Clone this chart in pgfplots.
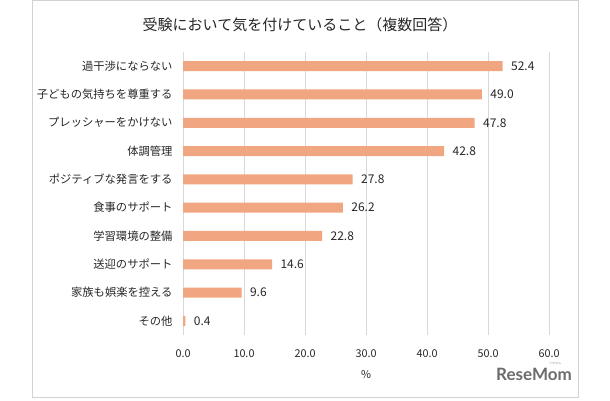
\documentclass[border=0pt]{standalone}
\usepackage{pgfplots}
\pgfplotsset{compat=1.18}
\usepackage{fontspec}
\setmainfont{Noto Sans CJK JP}
\newfontfamily\wmfont{Lato}
\definecolor{barc}{RGB}{240,166,128}
\definecolor{gridc}{RGB}{217,217,217}
\definecolor{framec}{RGB}{210,210,210}
\definecolor{txt}{RGB}{38,38,38}
\begin{document}
\begin{tikzpicture}[x=1bp,y=1bp]
\path[use as bounding box] (0,0) rectangle (610,400);
\draw[framec,line width=1bp] (32,3) rectangle (578,399);
\node[txt,font=\fontsize{15bp}{17bp}\selectfont] at (300,375) {受験において気を付けていること（複数回答）};
\begin{axis}[
  at={(183bp,65bp)}, anchor=south west,
  scale only axis, width=366bp, height=283bp,
  xmin=0, xmax=60, ymin=-0.5, ymax=9.5,
  y dir=reverse,
  xbar, bar width=10bp,
  axis line style={draw=none},
  xtick={0,10,...,60},
  xticklabel={\pgfmathprintnumber[fixed,fixed zerofill,precision=1]{\tick}},
  /pgf/number format/assume math mode=true,
  xmajorgrids, major grid style={gridc,line width=0.8bp},
  major tick length=0pt,
  ytick={0,...,9},
  yticklabels={過干渉にならない,子どもの気持ちを尊重する,プレッシャーをかけない,体調管理,ポジティブな発言をする,食事のサポート,学習環境の整備,送迎のサポート,家族も娯楽を控える,その他},
  yticklabel style={font=\fontsize{11.3bp}{13bp}\selectfont, text=txt, xshift=-7bp},
  xticklabel style={font=\fontsize{10.8bp}{12bp}\selectfont, text=txt, yshift=-11bp},
  xlabel={\%}, xlabel style={font=\fontsize{10.8bp}{12bp}\selectfont, text=txt, yshift=-6bp},
  nodes near coords,
  nodes near coords style={font=\fontsize{12bp}{14bp}\selectfont, text=txt, anchor=west, xshift=5bp},
  point meta=x,
  every node near coord/.append style={/pgf/number format/.cd, fixed, fixed zerofill, precision=1, assume math mode=true},
]
\addplot[fill=barc, draw=none] coordinates {
(52.4,0) (49.0,1) (47.8,2) (42.8,3) (27.8,4) (26.2,5) (22.8,6) (14.6,7) (9.6,8) (0.4,9)
};
\end{axis}
\node[gray!85!black,font=\wmfont\bfseries\fontsize{17bp}{18bp}\selectfont,anchor=center] at (534,26) {ReseMom};
\node[gray,font=\fontsize{3bp}{3bp}\selectfont] at (555,37) {リセマム};
\end{tikzpicture}
\end{document}
